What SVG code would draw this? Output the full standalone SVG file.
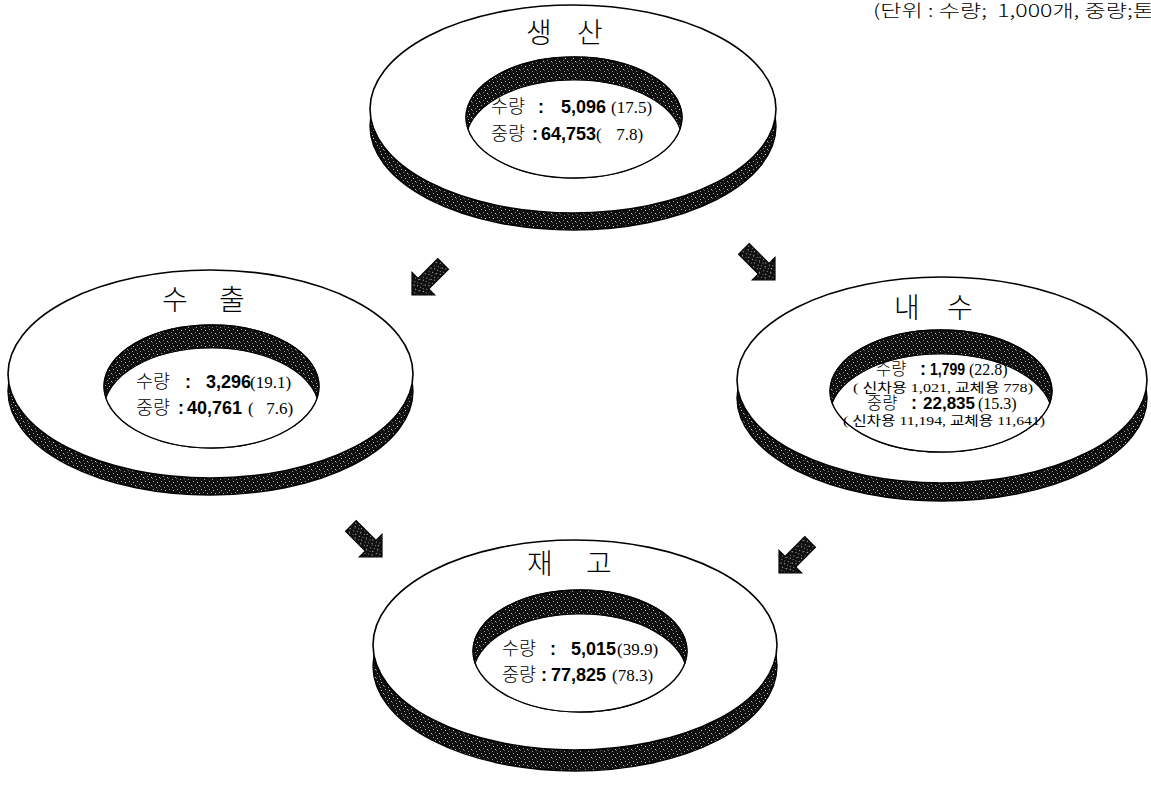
<svg xmlns="http://www.w3.org/2000/svg" width="1151" height="785" viewBox="0 0 1151 785">
<style>
.face{fill:#fff;stroke:#000;stroke-width:1.6}
.shadow{fill:url(#stip);stroke:#000;stroke-width:1.4}
.hole{fill:url(#stip);stroke:#000;stroke-width:1.2}
.inner{fill:#fff;stroke:#000;stroke-width:1.2}
.holeline{fill:none;stroke:#000;stroke-width:1.3}
.title{font-family:"Noto Sans CJK KR","Noto Sans",sans-serif;font-size:28px;font-weight:300;fill:#000}
.ko{font-family:"Noto Sans CJK KR","Noto Sans",sans-serif;font-size:18.5px;font-weight:300;fill:#000}
.colon{font-family:"Liberation Sans",Arial,sans-serif;font-weight:bold;font-size:18px}
.num{font-family:"Liberation Sans",Arial,sans-serif;font-weight:bold;font-size:18px}
.ser{font-family:"Liberation Serif","Times New Roman",serif;font-size:17px}
.r .ko{font-size:16.5px}
.r .num{font-size:17px}
.r .ser{font-size:16px}
.small{font-family:"Liberation Serif","Noto Sans CJK KR",serif;font-size:13px;fill:#000}
.unit{font-family:"Noto Sans CJK KR","Noto Sans",sans-serif;font-size:17px;font-weight:300;fill:#000}
.arrow{fill:url(#stip);stroke:#000;stroke-width:1.2;stroke-linejoin:miter}
</style>
<defs>
<pattern id="stip" width="8" height="8" patternUnits="userSpaceOnUse">
<rect width="8" height="8" fill="#101010"/>
<rect x="1" y="1" width="1" height="1" fill="#a8a8a8"/>
<rect x="5" y="2" width="1" height="1" fill="#d0d0d0"/>
<rect x="3" y="4" width="1" height="1" fill="#8a8a8a"/>
<rect x="7" y="5" width="1" height="1" fill="#bcbcbc"/>
<rect x="0" y="6" width="1" height="1" fill="#6a6a6a"/>
<rect x="4" y="7" width="1" height="1" fill="#9a9a9a"/>
</pattern>
<clipPath id="clip-top"><ellipse cx="574" cy="117.5" rx="108" ry="60.5"/></clipPath>
<clipPath id="clip-left"><ellipse cx="211.5" cy="386.5" rx="107.5" ry="61.5"/></clipPath>
<clipPath id="clip-right"><ellipse cx="941" cy="391" rx="111" ry="61"/></clipPath>
<clipPath id="clip-bottom"><ellipse cx="580" cy="651" rx="107" ry="61"/></clipPath>
<polygon id="arr" points="0,0 -16,-16 -16,-7.5 -44,-7.5 -44,7.5 -16,7.5 -16,16"/>
</defs>
<rect width="1151" height="785" fill="#fff"/>

<text class="unit" x="873" y="17" xml:space="preserve" textLength="281" lengthAdjust="spacingAndGlyphs">(단위 : 수량;  1,000개, 중량;톤</text>

<g id="production">
<ellipse class="shadow" cx="573" cy="126" rx="203" ry="104"/>
<ellipse class="face" cx="573" cy="109" rx="203" ry="104"/>
<ellipse class="hole" cx="574" cy="117.5" rx="108" ry="60.5"/>
<ellipse class="inner" cx="574" cy="140.5" rx="108" ry="60.5" clip-path="url(#clip-top)"/>
<ellipse class="holeline" cx="574" cy="117.5" rx="108" ry="60.5"/>
<text class="title" y="43"><tspan x="526">생 </tspan><tspan x="577">산</tspan></text>
<text y="113"><tspan class="ko" x="491">수량</tspan><tspan class="colon" x="538">:</tspan><tspan class="num" x="561">5,096</tspan><tspan class="ser" x="611">(17.5)</tspan></text>
<text y="140"><tspan class="ko" x="491">중량</tspan><tspan class="colon" x="532">:</tspan><tspan class="num" x="541">64,753</tspan><tspan class="ser" x="596">(</tspan><tspan class="ser" x="612"> 7.8)</tspan></text>
</g>

<g id="export">
<ellipse class="shadow" cx="210.5" cy="391" rx="202.5" ry="104"/>
<ellipse class="face" cx="210.5" cy="374" rx="202.5" ry="104"/>
<ellipse class="hole" cx="211.5" cy="386.5" rx="107.5" ry="61.5"/>
<ellipse class="inner" cx="211.5" cy="409.5" rx="107.5" ry="61.5" clip-path="url(#clip-left)"/>
<ellipse class="holeline" cx="211.5" cy="386.5" rx="107.5" ry="61.5"/>
<text class="title" y="310"><tspan x="162">수 </tspan><tspan x="219">출</tspan></text>
<text y="388"><tspan class="ko" x="136">수량</tspan><tspan class="colon" x="185">:</tspan><tspan class="num" x="206">3,296</tspan><tspan class="ser" x="250">(19.1)</tspan></text>
<text y="414"><tspan class="ko" x="136">중량</tspan><tspan class="colon" x="178">:</tspan><tspan class="num" x="187">40,761</tspan><tspan class="ser" x="248">(</tspan><tspan class="ser" x="262"> 7.6)</tspan></text>
</g>

<g id="domestic" class="r">
<ellipse class="shadow" cx="942" cy="398" rx="205" ry="103"/>
<ellipse class="face" cx="942" cy="380" rx="205" ry="103"/>
<ellipse class="hole" cx="941" cy="391" rx="111" ry="61"/>
<ellipse class="inner" cx="941" cy="415" rx="111" ry="61" clip-path="url(#clip-right)"/>
<ellipse class="holeline" cx="941" cy="391" rx="111" ry="61"/>
<text class="title" y="318"><tspan x="894">내 </tspan><tspan x="947">수</tspan></text>
<text y="375"><tspan class="ko" x="876">수량</tspan><tspan class="colon" x="920">:</tspan><tspan class="num" x="930" textLength="35" lengthAdjust="spacingAndGlyphs">1,799</tspan><tspan class="ser" x="969">(22.8)</tspan></text>
<text class="small" x="853" y="392" xml:space="preserve" textLength="180" lengthAdjust="spacingAndGlyphs">( 신차용 1,021, 교체용 778)</text>
<text y="409"><tspan class="ko" x="867">중량</tspan><tspan class="colon" x="911">:</tspan><tspan class="num" x="923">22,835</tspan><tspan class="ser" x="978">(15.3)</tspan></text>
<text class="small" x="843" y="425" xml:space="preserve" textLength="202" lengthAdjust="spacingAndGlyphs">( 신차용 11,194, 교체용 11,641)</text>
</g>

<g id="inventory">
<ellipse class="shadow" cx="575" cy="666" rx="202" ry="105"/>
<ellipse class="face" cx="575" cy="645" rx="202" ry="105"/>
<ellipse class="hole" cx="580" cy="651" rx="107" ry="61"/>
<ellipse class="inner" cx="580" cy="675" rx="107" ry="61" clip-path="url(#clip-bottom)"/>
<ellipse class="holeline" cx="580" cy="651" rx="107" ry="61"/>
<text class="title" y="574"><tspan x="527">재 </tspan><tspan x="586">고</tspan></text>
<text y="655"><tspan class="ko" x="502">수량</tspan><tspan class="colon" x="550">:</tspan><tspan class="num" x="571">5,015</tspan><tspan class="ser" x="617">(39.9)</tspan></text>
<text y="681"><tspan class="ko" x="502">중량</tspan><tspan class="colon" x="541">:</tspan><tspan class="num" x="551">77,825</tspan><tspan class="ser" x="612">(78.3)</tspan></text>
</g>

<g id="connectors">
<use href="#arr" class="arrow" transform="translate(412,295) rotate(135)"/>
<use href="#arr" class="arrow" transform="translate(775,280) rotate(45)"/>
<use href="#arr" class="arrow" transform="translate(382,557) rotate(45)"/>
<use href="#arr" class="arrow" transform="translate(779,573) rotate(135)"/>
</g>
</svg>
